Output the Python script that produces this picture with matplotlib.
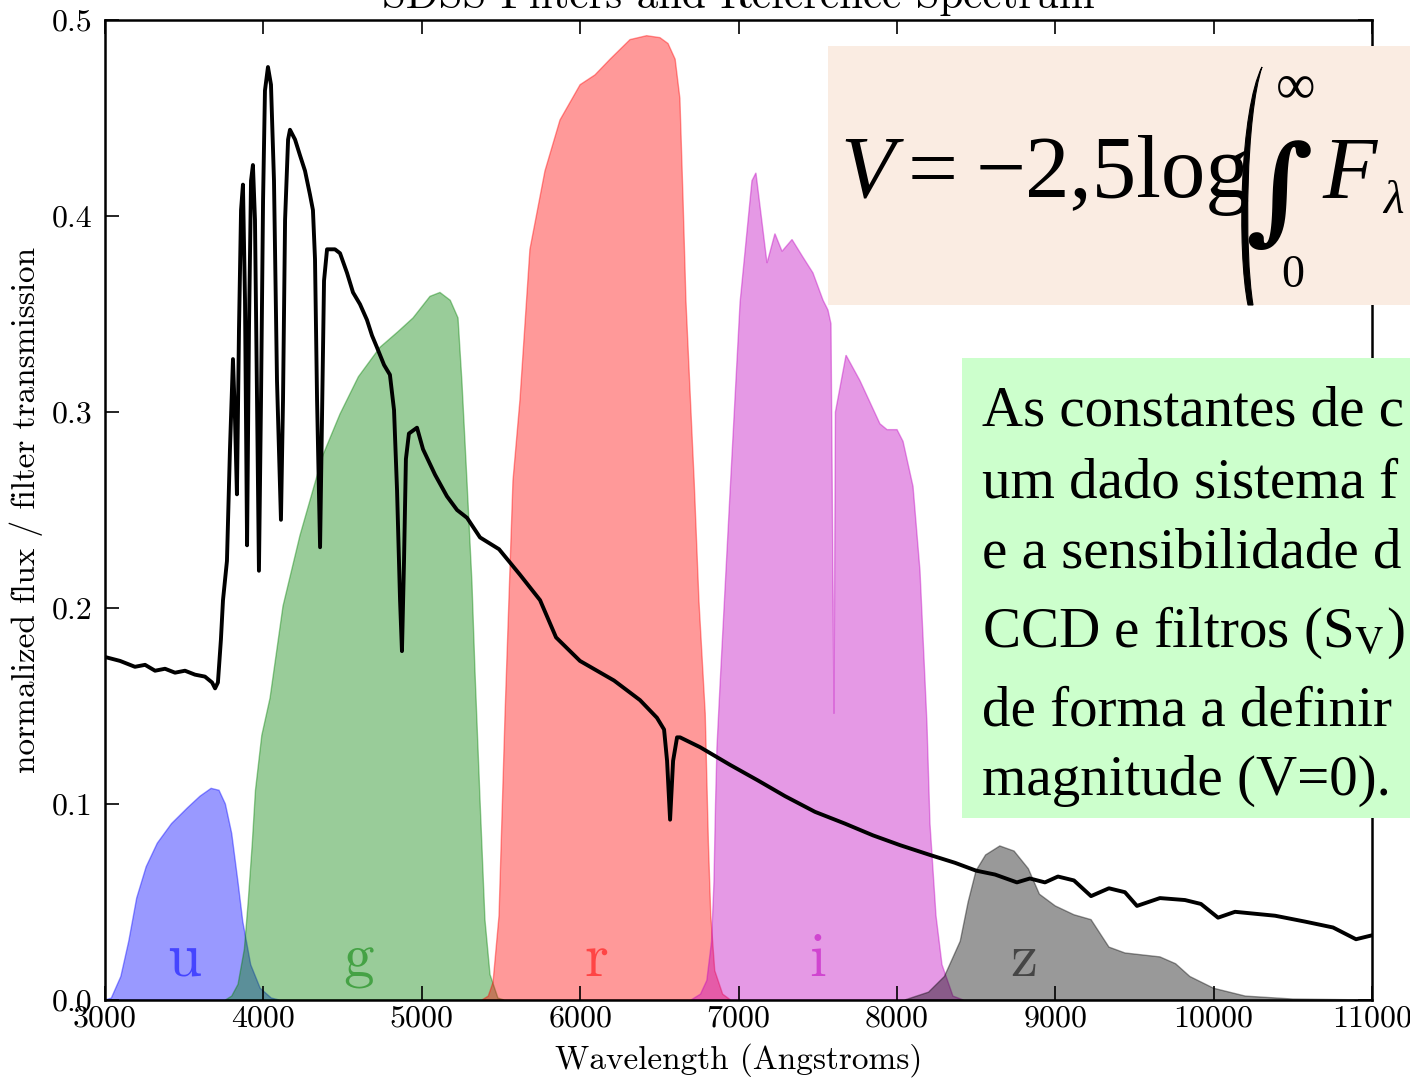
import numpy as np
import matplotlib
matplotlib.use("Agg")
import matplotlib.pyplot as plt
from matplotlib.patches import Rectangle, PathPatch
from matplotlib.path import Path
from matplotlib.ticker import FormatStrFormatter

# ---- data (wavelength in Angstroms) ----
spec_wl = [3000, 3095, 3189, 3253, 3316, 3379, 3442, 3505, 3568, 3631, 3676, 3695,
           3713, 3732, 3745, 3770, 3789, 3808, 3821, 3833, 3846, 3859, 3871, 3884,
           3897, 3909, 3922, 3934, 3947, 3960, 3972, 3985, 3998, 4010, 4029, 4048,
           4067, 4086, 4111, 4124, 4137, 4156, 4168, 4200, 4231, 4263, 4294, 4313,
           4326, 4339, 4358, 4370, 4383, 4402, 4452, 4484, 4528, 4566, 4610, 4654,
           4686, 4717, 4762, 4799, 4825, 4844, 4863, 4875, 4888, 4900, 4919, 4970,
           5008, 5084, 5159, 5223, 5286, 5368, 5488, 5620, 5747, 5848, 5999, 6214,
           6378, 6485, 6530, 6549, 6568, 6587, 6612, 6631, 6757, 6946, 7123, 7294,
           7483, 7672, 7849, 8020, 8209, 8367, 8500, 8620, 8758, 8840, 8935, 9017,
           9118, 9226, 9339, 9440, 9516, 9661, 9819, 9920, 10028, 10135, 10388,
           10577, 10754, 10899, 11000]
spec_flux = [0.175, 0.173, 0.170, 0.171, 0.168, 0.169, 0.167, 0.168, 0.166, 0.165, 0.162, 0.159,
             0.162, 0.184, 0.204, 0.224, 0.281, 0.327, 0.296, 0.258, 0.342, 0.403, 0.416, 0.357,
             0.232, 0.342, 0.418, 0.426, 0.398, 0.306, 0.219, 0.306, 0.408, 0.464, 0.476, 0.467,
             0.418, 0.316, 0.245, 0.306, 0.398, 0.439, 0.444, 0.439, 0.431, 0.423, 0.411, 0.403,
             0.378, 0.306, 0.231, 0.296, 0.367, 0.383, 0.383, 0.381, 0.371, 0.361, 0.355, 0.347,
             0.339, 0.333, 0.324, 0.319, 0.301, 0.260, 0.204, 0.178, 0.224, 0.276, 0.289, 0.292,
             0.281, 0.268, 0.257, 0.250, 0.246, 0.236, 0.230, 0.217, 0.204, 0.185, 0.173, 0.163,
             0.153, 0.144, 0.138, 0.122, 0.092, 0.122, 0.134, 0.134, 0.129, 0.120, 0.112, 0.104,
             0.096, 0.090, 0.084, 0.079, 0.074, 0.070, 0.066, 0.064, 0.060, 0.062, 0.060, 0.063,
             0.061, 0.053, 0.057, 0.055, 0.048, 0.052, 0.051, 0.049, 0.042, 0.045, 0.043,
             0.040, 0.037, 0.031, 0.033]

u_wl = [3000, 3040, 3100, 3150, 3200, 3260, 3330, 3420, 3520, 3600, 3670, 3720,
        3760, 3800, 3840, 3870, 3920, 3980, 4050, 4100]
u_tr = [0, 0.001, 0.012, 0.030, 0.052, 0.068, 0.080, 0.090, 0.098, 0.104, 0.108, 0.107,
        0.100, 0.085, 0.060, 0.040, 0.018, 0.006, 0.001, 0]

g_wl = [3760, 3800, 3840, 3880, 3905, 3930, 3950, 3990, 4042, 4124, 4231, 4376, 4484,
        4600, 4736, 4850, 4945, 5052, 5115, 5180, 5229, 5254, 5286, 5317, 5336, 5368,
        5399, 5431, 5481, 5520]
g_tr = [0, 0.002, 0.008, 0.026, 0.051, 0.080, 0.107, 0.135, 0.154, 0.201, 0.237, 0.278, 0.299,
        0.318, 0.333, 0.341, 0.348, 0.359, 0.361, 0.357, 0.348, 0.315, 0.264, 0.213, 0.168, 0.102,
        0.041, 0.013, 0.001, 0]

r_wl = [5380, 5420, 5450, 5488, 5526, 5576, 5620, 5683, 5778, 5873, 6000, 6094, 6189,
        6315, 6420, 6504, 6555, 6600, 6630, 6650, 6668, 6700, 6720, 6750, 6790, 6810,
        6825, 6850, 6900, 6950]
r_tr = [0, 0.002, 0.009, 0.043, 0.146, 0.265, 0.306, 0.383, 0.423, 0.449, 0.467, 0.472, 0.480,
        0.490, 0.492, 0.491, 0.488, 0.480, 0.460, 0.408, 0.357, 0.300, 0.265, 0.204, 0.146, 0.080,
        0.043, 0.015, 0.003, 0]

i_wl = [6700, 6760, 6800, 6830, 6845, 6855, 6864, 6883, 6946, 7010, 7085, 7110, 7180,
        7230, 7275, 7338, 7407, 7470, 7534, 7565, 7584, 7603, 7612, 7679, 7767, 7893,
        7938, 8001, 8039, 8102, 8146, 8190, 8209, 8247, 8285, 8354, 8420]
i_tr = [0, 0.003, 0.010, 0.030, 0.060, 0.100, 0.129, 0.160, 0.258, 0.356, 0.418, 0.422, 0.376,
        0.391, 0.382, 0.388, 0.379, 0.371, 0.357, 0.352, 0.345, 0.146, 0.300, 0.329, 0.316, 0.294,
        0.291, 0.291, 0.285, 0.262, 0.219, 0.141, 0.090, 0.043, 0.018, 0.002, 0]

z_wl = [8050, 8200, 8300, 8400, 8450, 8500, 8560, 8650, 8740, 8830, 8900, 9000, 9118,
        9226, 9339, 9440, 9550, 9661, 9760, 9850, 10000, 10200, 10500, 11000]
z_tr = [0, 0.004, 0.012, 0.030, 0.050, 0.066, 0.074, 0.0786, 0.076, 0.067, 0.054, 0.048, 0.0435,
        0.041, 0.027, 0.024, 0.023, 0.022, 0.0185, 0.012, 0.006, 0.002, 0.0005, 0]

band_names = ['u', 'g', 'r', 'i', 'z']
band_colors = ['b', 'g', 'r', 'm', 'k']
band_label_x = [3500, 4600, 6100, 7500, 8800]

xticks = [3000, 4000, 5000, 6000, 7000, 8000, 9000, 10000, 11000]
yticks = [0.0, 0.1, 0.2, 0.3, 0.4, 0.5]

formula_lines = ['As constantes de c', 'um dado sistema f', 'e a sensibilidade d',
                 r'CCD e filtros (S$_\mathrm{V}$)', 'de forma a definir', 'magnitude (V=0).']

# ---- figure ----
plt.rcParams['font.family'] = 'cmr10'
plt.rcParams['axes.formatter.use_mathtext'] = True
plt.rcParams['mathtext.fontset'] = 'cm'

W, H = 1410, 1079
fig = plt.figure(figsize=(W / 100, H / 100), dpi=100)
ax = fig.add_axes([105 / W, 1 - 1000 / H, (1372 - 105) / W, (1000 - 20) / H])

filters = [(u_wl, u_tr), (g_wl, g_tr), (r_wl, r_tr), (i_wl, i_tr), (z_wl, z_tr)]
for (wl, tr), c in zip(filters, band_colors):
    ax.fill(wl, tr, ec=c, fc=c, alpha=0.4, lw=1)

ax.plot(spec_wl, spec_flux, '-k', lw=2.8)

for name, c, xl in zip(band_names, band_colors, band_label_x):
    ax.text(xl, 0.012, name, color=c, alpha=0.55, ha='center', va='baseline', fontsize=44)

ax.set_xlim(3000, 11000)
ax.set_ylim(0, 0.5)
ax.set_xticks(xticks)
ax.set_yticks(yticks)
ax.yaxis.set_major_formatter(FormatStrFormatter('%.1f'))
ax.xaxis.set_major_formatter(FormatStrFormatter('%d'))
ax.tick_params(direction='in', top=True, right=True, length=10, width=1.2, labelsize=23)
ax.tick_params(axis='y', pad=9)
ax.tick_params(axis='x', pad=4)
for s in ax.spines.values():
    s.set_linewidth(1.8)

ax.set_xlabel('Wavelength (Angstroms)', fontsize=24, labelpad=7)
ax.set_ylabel('normalized flux / filter transmission', fontsize=24, labelpad=6)
ax.set_title('SDSS Filters and Reference Spectrum', fontsize=31, pad=9)


# ---- overlay boxes (pixel positions converted to figure fraction) ----
def fx(px):
    return px / W


def fy(py):
    return 1 - py / H


fig.add_artist(Rectangle((fx(828), fy(305)), fx(W) - fx(828), fy(46) - fy(305),
                         transform=fig.transFigure, fc='#FAECE2', ec='none', zorder=5))
fig.add_artist(Rectangle((fx(962), fy(818)), fx(W) - fx(962), fy(358) - fy(818),
                         transform=fig.transFigure, fc='#CCFFCC', ec='none', zorder=5))

serif = 'Liberation Serif'
fig.text(fx(840), fy(197), 'V', family=serif, style='italic', fontsize=64, zorder=6)
fig.text(fx(908), fy(197), '=', family=serif, fontsize=64, zorder=6)
fig.text(fx(976), fy(197), '\u22122,5log', family=serif, fontsize=64, zorder=6)
fig.text(fx(1279), fy(196), '\u222b', family='DejaVu Serif', fontweight='bold', fontsize=84,
         ha='center', va='center', zorder=6)
fig.text(fx(1296), fy(88), '\u221e', family=serif, fontsize=40, ha='center', va='center', zorder=6)
fig.text(fx(1293), fy(287), '0', family=serif, fontsize=33, ha='center', va='baseline', zorder=6)
fig.text(fx(1322), fy(197), 'F', family=serif, style='italic', fontsize=64, zorder=6)
fig.text(fx(1383), fy(213), '\u03bb', family=serif, style='italic', fontsize=34, zorder=6)

# tall parenthesis
pv = [(1262, 67), (1240, 110), (1237, 250), (1248, 305),
      (1253, 305), (1244, 250), (1246, 115), (1262, 67)]
pc = [Path.MOVETO, Path.CURVE4, Path.CURVE4, Path.CURVE4,
      Path.LINETO, Path.CURVE4, Path.CURVE4, Path.CURVE4]
paren = Path([(fx(a), fy(b)) for a, b in pv], pc)
fig.add_artist(PathPatch(paren, transform=fig.transFigure, fc='black', ec='black', lw=0.8, zorder=6))

baselines = [426, 497, 568, 647, 725, 795]
for line, yb in zip(formula_lines, baselines):
    fig.text(fx(982), fy(yb), line, family=serif, math_fontfamily='stix', fontsize=41,
             va='baseline', zorder=6)

fig.savefig('out.png', dpi=100)
